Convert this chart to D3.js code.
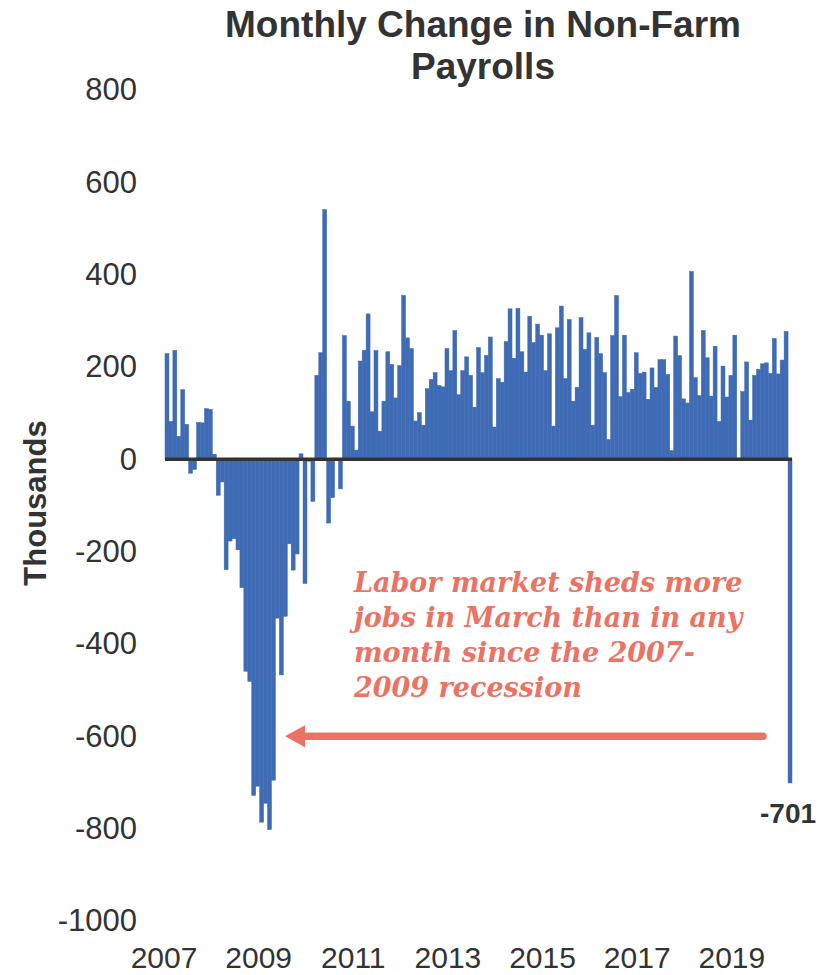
<!DOCTYPE html>
<html>
<head>
<meta charset="utf-8">
<script src="https://cdn.jsdelivr.net/npm/d3@7"></script>
<style>
  body { margin: 0; background: #fff; }
  svg { display: block; }
</style>
</head>
<body>
<div id="wrapper"></div>
<script>
// monthly change in non-farm payrolls, thousands
const years = ["2007", "2008", "2009", "2010", "2011", "2012", "2013", "2014", "2015", "2016", "2017", "2018", "2019", "2020"]
const payrolls2007 = [229, 82, 236, 50, 151, 76, -30, -22, 80, 79, 110, 108]
const payrolls2008 = [11, -78, -49, -239, -177, -172, -196, -278, -459, -481, -728, -708]
const payrolls2009 = [-786, -745, -802, -695, -344, -467, -340, -183, -240, -205, 12, -269]
const payrolls2010 = [-4, -91, 182, 231, 541, -138, -83, -3, -64, 268, 126, 72]
const payrolls2011 = [20, 213, 236, 315, 103, 236, 61, 126, 233, 206, 133, 203]
const payrolls2012 = [355, 263, 240, 83, 101, 74, 153, 173, 188, 160, 157, 240]
const payrolls2013 = [192, 279, 140, 192, 222, 182, 113, 242, 188, 225, 265, 70]
const payrolls2014 = [175, 167, 255, 326, 219, 327, 233, 189, 310, 253, 293, 269]
const payrolls2015 = [192, 272, 72, 285, 332, 175, 303, 126, 156, 307, 238, 274]
const payrolls2016 = [74, 264, 229, 188, 43, 268, 355, 136, 269, 145, 152, 231]
const payrolls2017 = [186, 189, 130, 198, 156, 216, 216, 184, 19, 267, 225, 131]
const payrolls2018 = [122, 407, 177, 138, 279, 220, 137, 245, 82, 202, 135, 182]
const payrolls2019 = [269, 1, 147, 211, 85, 182, 195, 207, 209, 186, 262, 185]
const payrolls2020 = [215, 277, -701]

const yTicks = [800, 600, 400, 200, 0, -200, -400, -600, -800, -1000]
const xTickLabels = ["2007", "2009", "2011", "2013", "2015", "2017", "2019"]

const titleLines = ["Monthly Change in Non-Farm", "Payrolls"]
const noteLines = ["Labor market sheds more", "jobs in March than in any", "month since the 2007-", "2009 recession"]

const allYears = [payrolls2007, payrolls2008, payrolls2009, payrolls2010, payrolls2011, payrolls2012, payrolls2013,
                  payrolls2014, payrolls2015, payrolls2016, payrolls2017, payrolls2018, payrolls2019, payrolls2020]

// flatten into one row per month
const dataset = []
allYears.forEach((vals, i) => {
  vals.forEach((v, m) => dataset.push({month: years[i] + "-" + (m + 1), value: v}))
})

const dimensions = {width: 833, height: 975}

const svg = d3.select("#wrapper")
  .append("svg")
    .attr("width", dimensions.width)
    .attr("height", dimensions.height)

const x = d3.scaleBand()
  .domain(dataset.map(d => d.month))
  .range([165, 792])
  .padding(0)

const y = d3.scaleLinear()
  .domain([-1000, 800])
  .range([921, 90])

const barColor = "#3e6bb4"
const noteColor = "#eb7363"
const textColor = "#333333"

// title
svg.append("g")
  .selectAll("text")
  .data(titleLines)
  .enter().append("text")
    .attr("x", 483)
    .attr("y", (d, i) => 37 + i * 42)
    .attr("text-anchor", "middle")
    .style("font-family", "'Liberation Sans', Arial, sans-serif")
    .style("font-weight", "bold")
    .style("font-size", "37px")
    .style("fill", textColor)
    .text(d => d)

// y axis labels (plain hyphen for negatives, like the original)
const yAxis = svg.append("g")
  .attr("transform", "translate(137,0)")
  .call(d3.axisLeft(y).tickValues(yTicks).tickSize(0).tickPadding(0).tickFormat(d => String(d)))
yAxis.select(".domain").remove()
yAxis.selectAll("text")
  .style("font-family", "'Liberation Sans', Arial, sans-serif")
  .style("font-size", "31px")
  .style("fill", textColor)

// y axis title
svg.append("text")
  .attr("transform", "translate(46,503) rotate(-90)")
  .attr("text-anchor", "middle")
  .style("font-family", "'Liberation Sans', Arial, sans-serif")
  .style("font-weight", "bold")
  .style("font-size", "31px")
  .style("fill", textColor)
  .text("Thousands")

// bars (thin same-colour stroke hides the anti-aliasing seams)
svg.append("g")
  .selectAll("rect")
  .data(dataset)
  .enter().append("rect")
    .attr("x", d => x(d.month))
    .attr("width", x.bandwidth())
    .attr("y", d => y(Math.max(0, d.value)))
    .attr("height", d => Math.abs(y(d.value) - y(0)))
    .attr("fill", barColor)
    .attr("stroke", barColor)
    .attr("stroke-width", 0.5)

// zero line
svg.append("line")
  .attr("x1", x.range()[0])
  .attr("x2", x.range()[1])
  .attr("y1", y(0))
  .attr("y2", y(0))
  .attr("stroke", textColor)
  .attr("stroke-width", 3.5)

// x axis labels, placed at the start of January of each labelled year
svg.append("g")
  .selectAll("text")
  .data(xTickLabels)
  .enter().append("text")
    .attr("x", d => x(d + "-1") - 1)
    .attr("y", 968)
    .attr("text-anchor", "middle")
    .style("font-family", "'Liberation Sans', Arial, sans-serif")
    .style("font-size", "30px")
    .style("fill", textColor)
    .text(d => d)

// label for the last bar
const last = dataset[dataset.length - 1]
svg.append("text")
  .attr("x", x(last.month) + x.bandwidth() / 2 - 2)
  .attr("y", 823)
  .attr("text-anchor", "middle")
  .style("font-family", "'Liberation Sans', Arial, sans-serif")
  .style("font-weight", "bold")
  .style("font-size", "28px")
  .style("fill", textColor)
  .text(last.value)

// annotation
svg.append("g")
  .selectAll("text")
  .data(noteLines)
  .enter().append("text")
    .attr("x", 354)
    .attr("y", (d, i) => 592 + i * 35)
    .style("font-family", "'DejaVu Serif', serif")
    .style("font-weight", "bold")
    .style("font-style", "italic")
    .style("font-size", "27px")
    .style("fill", noteColor)
    .text(d => d)

// arrow pointing back at the 2009 trough
const arrowY = y(-600)
svg.append("line")
  .attr("x1", 763)
  .attr("x2", 300)
  .attr("y1", arrowY)
  .attr("y2", arrowY)
  .attr("stroke", noteColor)
  .attr("stroke-width", 7.5)
  .attr("stroke-linecap", "round")
svg.append("path")
  .attr("d", `M285,${arrowY} L305,${arrowY - 11} L305,${arrowY + 11} Z`)
  .attr("fill", noteColor)
</script>
</body>
</html>
